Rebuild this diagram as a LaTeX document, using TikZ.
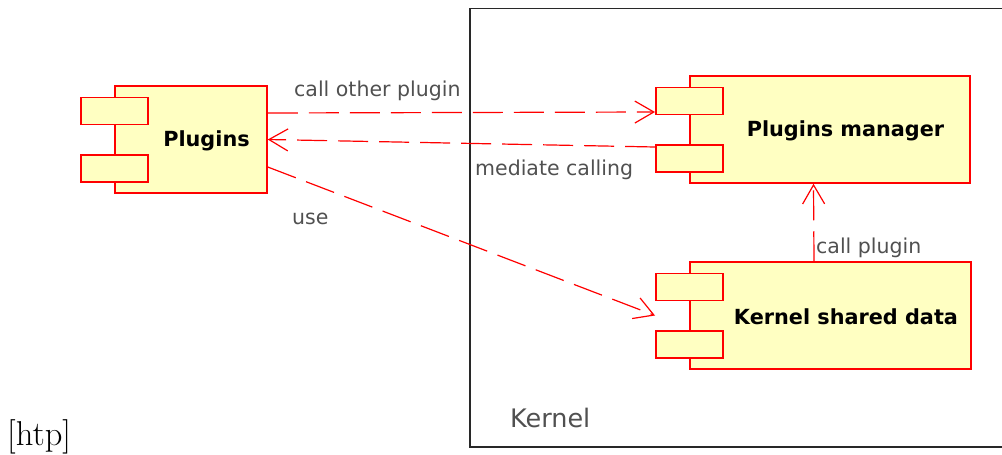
\documentclass[tikz,border=0pt]{standalone}
\usepackage{fontspec}
\setsansfont{DejaVu Sans}
\usetikzlibrary{arrows.meta,calc}
\definecolor{umlred}{RGB}{255,0,0}
\definecolor{umlfill}{RGB}{255,255,194}
\definecolor{labelgrey}{RGB}{80,80,80}
\definecolor{framegrey}{RGB}{40,40,40}
\tikzset{
  compbody/.style={draw=umlred, fill=umlfill, line width=1.5pt, rectangle, inner sep=0pt},
  comptab/.style={compbody, minimum width=67pt, minimum height=27pt},
  comptext/.style={font=\sffamily\bfseries\fontsize{20.8}{24}\selectfont, inner sep=0pt},
  deplabel/.style={font=\sffamily\fontsize{20.5}{24}\selectfont, text=labelgrey, inner sep=0pt, anchor=base west},
  dep/.style={draw=umlred, line width=1.2pt, dash pattern=on 30pt off 11pt,
    -{Straight Barb[length=19pt,width=22pt,line width=1.2pt]}},
}
% UML component: body, two tabs on its left edge, bold name
\newcommand\umlcomp[5]{%
  \node[compbody, minimum width=#3, minimum height=#4] (#1) at #2 {};
  \node[comptab] (#1-t1) at ([yshift=-25.5pt]#1.north west) {};
  \node[comptab] (#1-t2) at ([yshift=25.5pt]#1.south west) {};
  \node[comptext] (#1-name) at ([xshift=15.5pt,yshift=-1.5pt]#1.center) {#5};
}
\begin{document}
\begin{tikzpicture}[x=1pt, y=-1pt]
\useasboundingbox (0,0) rectangle (1002,455);

% Kernel package frame (open to the right)
\draw[line width=1.5pt, draw=framegrey] (1002,8.5) -- (470,8.5) -- (470,447) -- (1002,447);
\node[deplabel, font=\sffamily\fontsize{25.5}{30}\selectfont] (kernel) at (510,427) {Kernel};

% components
\umlcomp{plg}{(191,139.5)}{152pt}{107pt}{Plugins}
\umlcomp{pm}{(830,129.5)}{280pt}{107pt}{Plugins manager}
\umlcomp{ksd}{(830.5,315.5)}{281pt}{107pt}{Kernel shared data}

% dependencies
\draw[dep] ([yshift=26.5pt]plg.east) -- ([yshift=3pt]pm-t1.south west);
\draw[dep] ([yshift=-3pt]pm-t2.north west) -- (plg.east);
\draw[dep] ([yshift=-27.5pt]plg.east) -- (ksd-t1.south west |- ksd.west);
\draw[dep] ([xshift=-16.5pt]ksd.north) -- ([xshift=-16.5pt]pm.south);

% dependency labels
\node[deplabel] (l-call) at (294,96) {call other plugin};
\node[deplabel] (l-med) at (475,175) {mediate calling};
\node[deplabel] (l-use) at (292,224) {use};
\node[deplabel] (l-cp) at (816,253) {call plugin};

% float placement text
\node[inner sep=0pt, anchor=base west, font=\fontsize{34.5}{40}\selectfont] (htp) at (7,445.5) {[htp]};
\end{tikzpicture}
\end{document}
